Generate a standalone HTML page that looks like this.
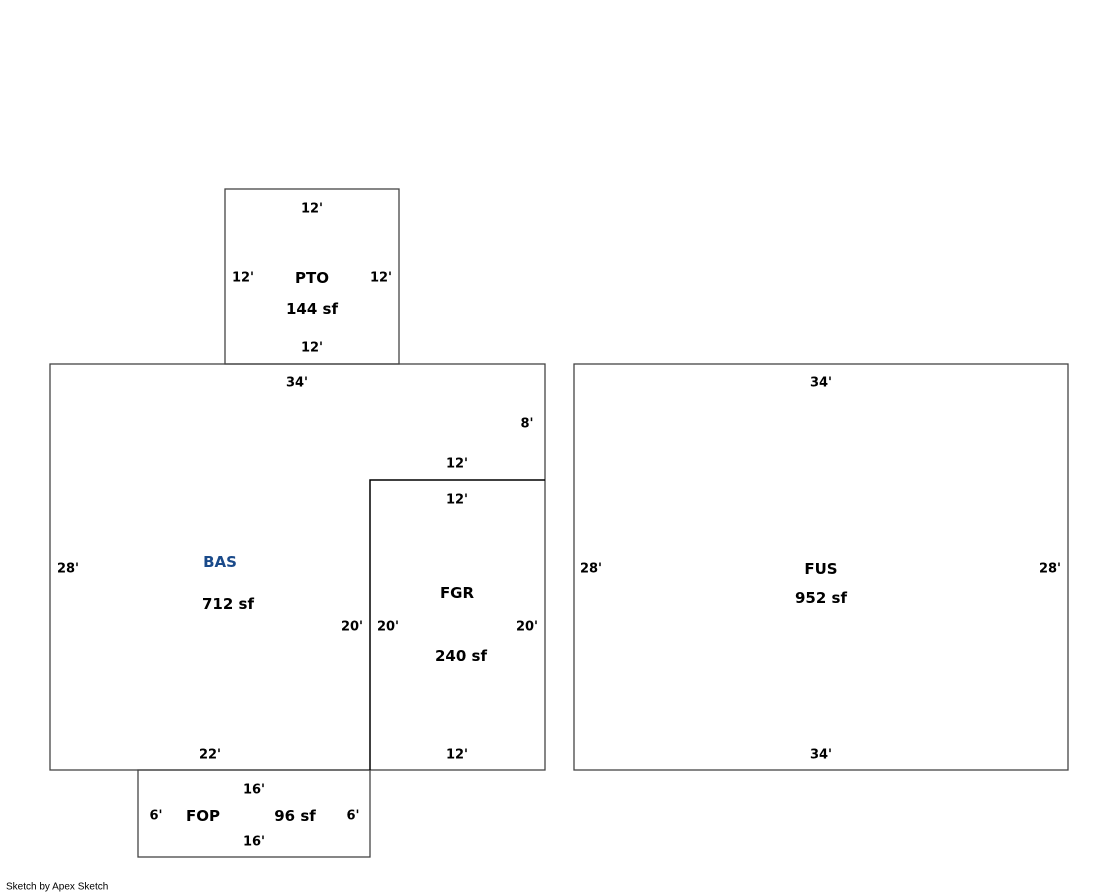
<!DOCTYPE html>
<html><head><meta charset="utf-8"><style>
html,body{margin:0;padding:0;background:#fff;width:1119px;height:893px;overflow:hidden}
svg{display:block}
.d{font:bold 13px "DejaVu Sans","Liberation Sans",sans-serif;fill:#000}
.a{font:bold 15px "DejaVu Sans","Liberation Sans",sans-serif;fill:#000}
</style></head><body>
<svg width="1119" height="893" viewBox="0 0 1119 893" text-anchor="middle" dominant-baseline="central">
<g fill="none" stroke="#444" stroke-width="1.3">
<rect x="225" y="189" width="174" height="175"/>
<rect x="50" y="364" width="495" height="406"/>
<rect x="574" y="364" width="494" height="406"/>
<rect x="138" y="770" width="232" height="87"/>
</g>
<g fill="none" stroke="#000" stroke-width="1.5">
<polyline points="370,770 370,480 545,480"/>
</g>
<g transform="translate(0,1)">
<text class="d" x="312" y="208">12'</text>
<text class="d" x="243" y="277">12'</text>
<text class="d" x="381" y="277">12'</text>
<text class="a" x="312" y="277">PTO</text>
<text class="a" x="312" y="308">144 sf</text>
<text class="d" x="312" y="347">12'</text>
<text class="d" x="297" y="382">34'</text>
<text class="d" x="527" y="423">8'</text>
<text class="d" x="457" y="463">12'</text>
<text class="d" x="457" y="499">12'</text>
<text class="d" x="68" y="568">28'</text>
<text class="a" x="220" y="561" style="fill:#1a4a8a">BAS</text>
<text class="a" x="228" y="603">712 sf</text>
<text class="d" x="352" y="626">20'</text>
<text class="d" x="388" y="626">20'</text>
<text class="d" x="527" y="626">20'</text>
<text class="a" x="457" y="592">FGR</text>
<text class="a" x="461" y="655">240 sf</text>
<text class="d" x="210" y="754">22'</text>
<text class="d" x="457" y="754">12'</text>
<text class="d" x="821" y="382">34'</text>
<text class="d" x="591" y="568">28'</text>
<text class="d" x="1050" y="568">28'</text>
<text class="a" x="821" y="568">FUS</text>
<text class="a" x="821" y="597">952 sf</text>
<text class="d" x="821" y="754">34'</text>
<text class="d" x="254" y="789">16'</text>
<text class="d" x="156" y="815">6'</text>
<text class="a" x="203" y="815">FOP</text>
<text class="a" x="295" y="815">96 sf</text>
<text class="d" x="353" y="815">6'</text>
<text class="d" x="254" y="841">16'</text>
</g>
<text x="6" y="887" text-anchor="start" style="font:10px 'Liberation Sans',sans-serif;fill:#000">Sketch by Apex Sketch</text>
</svg>
</body></html>
